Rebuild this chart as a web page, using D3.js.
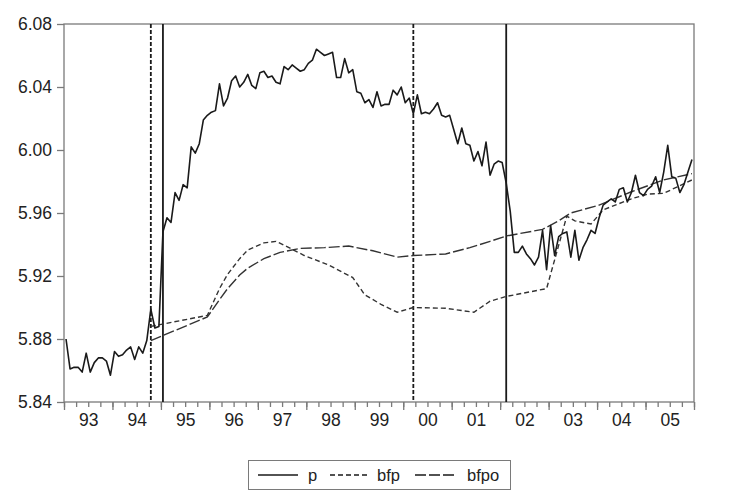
<!DOCTYPE html>
<html>
<head>
<meta charset="utf-8">
<script src="https://cdn.jsdelivr.net/npm/d3@7"></script>
<style>
  body { margin: 0; background: #fff; }
  text { font-family: "Liberation Sans", Arial, sans-serif; fill: #222; }
</style>
</head>
<body>
<div id="chart"></div>
<script>
// monthly series, Jan 1993 .. Dec 2005 (index 0..155)
const p = [
  5.880, 5.861, 5.862, 5.862, 5.859, 5.871, 5.859, 5.865, 5.868, 5.868, 5.866, 5.857,
  5.872, 5.869, 5.870, 5.873, 5.875, 5.867, 5.875, 5.871, 5.879, 5.899, 5.887, 5.888,
  5.948, 5.957, 5.954, 5.973, 5.968, 5.978, 5.976, 6.002, 5.998, 6.004, 6.019, 6.022,
  6.024, 6.025, 6.042, 6.028, 6.033, 6.044, 6.047, 6.040, 6.043, 6.048, 6.041, 6.039,
  6.049, 6.050, 6.046, 6.047, 6.043, 6.042, 6.053, 6.051, 6.054, 6.052, 6.050, 6.051,
  6.055, 6.057, 6.064, 6.062, 6.060, 6.061, 6.062, 6.046, 6.046, 6.058, 6.049, 6.051,
  6.037, 6.036, 6.030, 6.032, 6.027, 6.037, 6.028, 6.029, 6.029, 6.038, 6.035, 6.040,
  6.030, 6.033, 6.023, 6.035, 6.023, 6.024, 6.023, 6.026, 6.030, 6.022, 6.021, 6.022,
  6.013, 6.004, 6.014, 6.004, 6.003, 5.993, 5.999, 5.990, 6.005, 5.984, 5.991, 5.993,
  5.992, 5.979, 5.961, 5.935, 5.935, 5.939, 5.934, 5.931, 5.927, 5.932, 5.949, 5.924,
  5.952, 5.933, 5.945, 5.947, 5.948, 5.932, 5.949, 5.930, 5.938, 5.943, 5.949, 5.947,
  5.957, 5.965, 5.967, 5.969, 5.967, 5.975, 5.976, 5.967, 5.973, 5.984, 5.973, 5.971,
  5.975, 5.977, 5.983, 5.973, 5.986, 6.003, 5.983, 5.982, 5.973, 5.978, 5.986, 5.994
];

// bfp / bfpo read at the months where their shape changes
const bfpMonths = [21, 35, 38, 40, 43, 45, 49, 52, 56, 59, 65, 71, 74, 78, 82, 86, 94, 101, 105, 109, 119, 124, 126, 130, 133, 140, 144, 148, 155];
const bfpValues = [5.888, 5.895, 5.912, 5.921, 5.931, 5.9365, 5.941, 5.942, 5.937, 5.933, 5.927, 5.919, 5.908, 5.902, 5.897, 5.900, 5.8995, 5.897, 5.904, 5.907, 5.912, 5.958, 5.955, 5.953, 5.962, 5.969, 5.972, 5.9725, 5.981];
const bfpoMonths = [21, 35, 38, 40, 43, 45, 49, 53, 58, 64, 70, 76, 82, 86, 94, 100, 105, 109, 118, 122, 125, 132, 140, 148, 155];
const bfpoValues = [5.879, 5.894, 5.905, 5.912, 5.9206, 5.925, 5.931, 5.935, 5.9375, 5.938, 5.939, 5.936, 5.932, 5.933, 5.934, 5.938, 5.942, 5.9454, 5.9496, 5.955, 5.960, 5.965, 5.9735, 5.981, 5.985];

const yearLabels = ["93", "94", "95", "96", "97", "98", "99", "00", "01", "02", "03", "04", "05"];
const yTicks = [5.84, 5.88, 5.92, 5.96, 6.00, 6.04, 6.08];
const dashedBreaks = [21, 86];
const solidBreaks = [24, 109];
const legendItems = [
  { name: "p", dash: null },
  { name: "bfp", dash: "5,3" },
  { name: "bfpo", dash: "11,3" }
];

const width = 746, height = 496;
const plotLeft = 64, plotRight = 694, plotTop = 24, plotBottom = 402;
const ink = "#1a1a1a", frame = "#7a7a7a";

const svg = d3.select("#chart").append("svg")
  .attr("width", width)
  .attr("height", height);

const x = d3.scaleLinear().domain([-0.5, 155.5]).range([plotLeft, plotRight]);
const y = d3.scaleLinear().domain([5.84, 6.08]).range([plotBottom, plotTop]);

// Y axis
const yAxis = svg.append("g")
  .attr("transform", "translate(" + plotLeft + ",0)")
  .call(d3.axisLeft(y).tickValues(yTicks).tickFormat(d3.format(".2f")).tickSize(7).tickPadding(5));
yAxis.select(".domain").remove();
yAxis.selectAll("line").attr("stroke", frame).attr("stroke-width", 1.3);
yAxis.selectAll("text").style("font-size", "17.5px").attr("fill", "#222");

// X axis: year ticks, quarter ticks, labels in the middle of each year
const years = d3.range(yearLabels.length + 1);
const quarters = d3.range(yearLabels.length * 4 + 1);
const xMajor = svg.append("g")
  .attr("transform", "translate(0," + plotBottom + ")")
  .call(d3.axisBottom(x).tickValues(years.map(k => k * 12 - 0.5)).tickFormat("").tickSize(8));
const xMinor = svg.append("g")
  .attr("transform", "translate(0," + plotBottom + ")")
  .call(d3.axisBottom(x).tickValues(quarters.map(q => q * 3 - 0.5)).tickFormat("").tickSize(5));
const xLabels = svg.append("g")
  .attr("transform", "translate(0," + plotBottom + ")")
  .call(d3.axisBottom(x).tickValues(yearLabels.map((d, k) => k * 12 + 5.5))
    .tickFormat((d, k) => yearLabels[k]).tickSize(0).tickPadding(12));
[xMajor, xMinor, xLabels].forEach(g => {
  g.select(".domain").remove();
  g.selectAll("line").attr("stroke", frame).attr("stroke-width", 1.3);
});
xLabels.selectAll("text").style("font-size", "17.5px").attr("fill", "#222");

// plot frame
svg.append("rect")
  .attr("x", plotLeft).attr("y", plotTop)
  .attr("width", plotRight - plotLeft).attr("height", plotBottom - plotTop)
  .attr("fill", "none").attr("stroke", frame).attr("stroke-width", 1.3);

// break lines
svg.selectAll(".brk-dash").data(dashedBreaks).enter().append("line")
  .attr("x1", d => x(d)).attr("x2", d => x(d))
  .attr("y1", plotTop).attr("y2", plotBottom)
  .attr("stroke", ink).attr("stroke-width", 1.8).attr("stroke-dasharray", "4,2");
svg.selectAll(".brk-solid").data(solidBreaks).enter().append("line")
  .attr("x1", d => x(d)).attr("x2", d => x(d))
  .attr("y1", plotTop).attr("y2", plotBottom)
  .attr("stroke", ink).attr("stroke-width", 1.8);

const line = d3.line().x(d => x(d[0])).y(d => y(d[1]));

svg.append("path")
  .datum(bfpoMonths.map((m, i) => [m, bfpoValues[i]]))
  .attr("d", line)
  .attr("fill", "none").attr("stroke", "#333").attr("stroke-width", 1.4)
  .attr("stroke-dasharray", "11,3");

svg.append("path")
  .datum(bfpMonths.map((m, i) => [m, bfpValues[i]]))
  .attr("d", line)
  .attr("fill", "none").attr("stroke", "#333").attr("stroke-width", 1.4)
  .attr("stroke-dasharray", "5,3");

svg.append("path")
  .datum(p.map((v, i) => [i, v]))
  .attr("d", line)
  .attr("fill", "none").attr("stroke", ink).attr("stroke-width", 1.6)
  .attr("stroke-linejoin", "round");

// legend
const legend = svg.append("g");
legend.append("rect")
  .attr("x", 248.5).attr("y", 460.5).attr("width", 262).attr("height", 29)
  .attr("fill", "#fff").attr("stroke", frame).attr("stroke-width", 1);
const legendX = [258, 330, 415];
const sampleW = [40, 37, 42];
legendItems.forEach((item, i) => {
  legend.append("line")
    .attr("x1", legendX[i]).attr("x2", legendX[i] + sampleW[i])
    .attr("y1", 475).attr("y2", 475)
    .attr("stroke", ink).attr("stroke-width", 1.5)
    .attr("stroke-dasharray", item.dash);
  legend.append("text")
    .attr("x", legendX[i] + sampleW[i] + 10).attr("y", 481)
    .style("font-size", "16.5px")
    .text(item.name);
});
</script>
</body>
</html>
